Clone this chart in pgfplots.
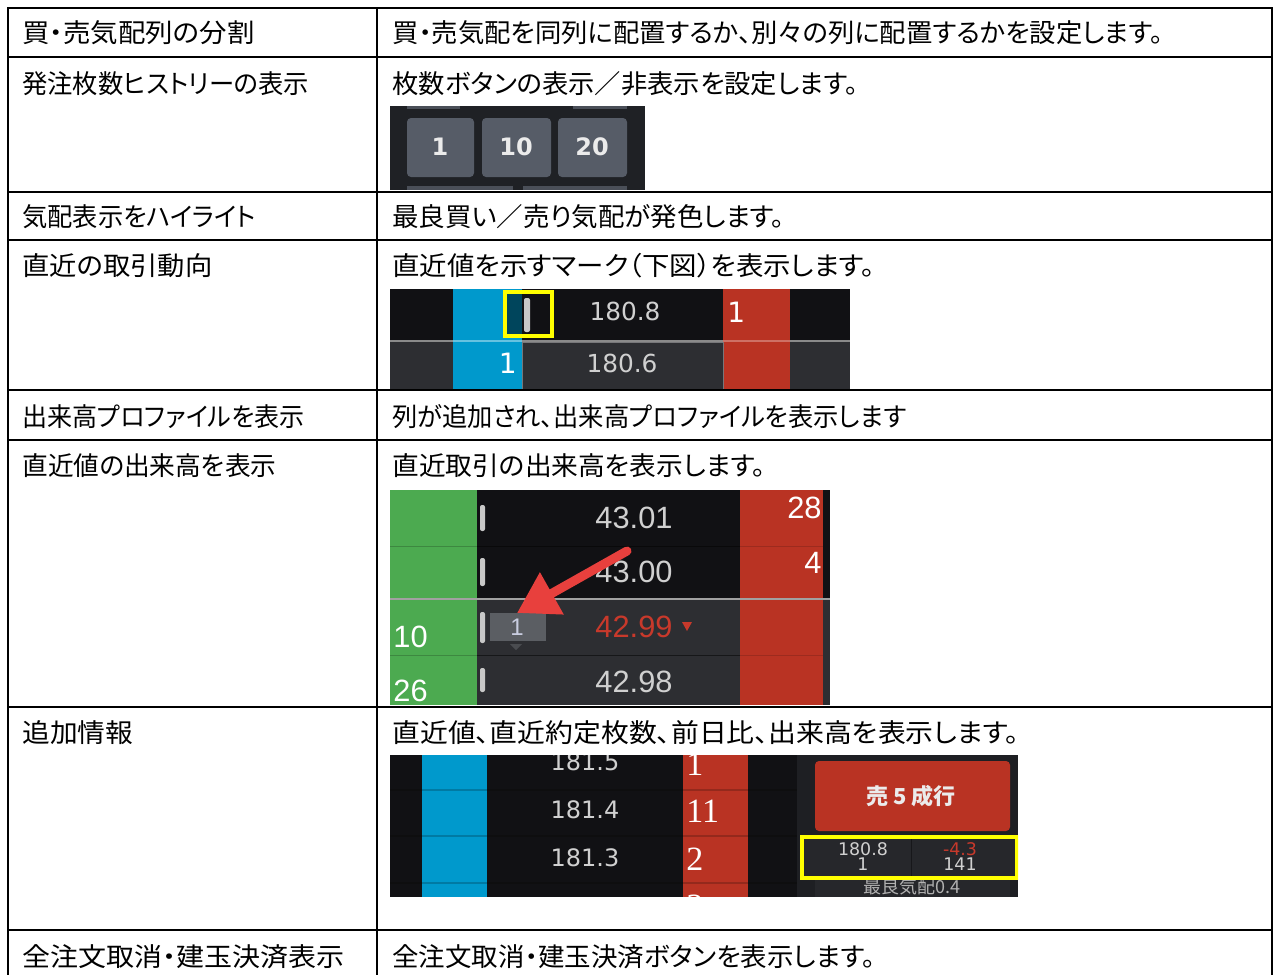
\documentclass[border=0pt]{standalone}
\usepackage{fontspec}
\usepackage{graphicx}
\usepackage{pgfplots}
\pgfplotsset{compat=1.18}
\usetikzlibrary{arrows.meta}
\setmainfont{Noto Sans CJK JP}[RawFeature=+palt]
\newfontfamily\cjk{Noto Sans CJK JP}
\newfontfamily\dv{DejaVu Sans}
\newfontfamily\ls{Liberation Sans}
\newfontfamily\lsr{Liberation Serif}
\definecolor{ssbg}{HTML}{1F2125}
\definecolor{btn}{HTML}{565C67}
\definecolor{btnpart}{HTML}{4A4F58}
\definecolor{blk}{HTML}{111114}
\definecolor{dgray}{HTML}{2D2E32}
\definecolor{sblue}{HTML}{0099CC}
\definecolor{sred}{HTML}{B93323}
\definecolor{divg}{HTML}{8A8A8A}
\definecolor{yel}{HTML}{FFFF00}
\definecolor{markc}{HTML}{C8C8C8}
\definecolor{numtxt}{HTML}{D0D0D0}
\definecolor{sgreen}{HTML}{4CAA50}
\definecolor{redtxt}{HTML}{C8392B}
\definecolor{arrowred}{HTML}{E8403D}
\definecolor{panel}{HTML}{1E1F23}
\definecolor{cellbg}{HTML}{26272B}
\definecolor{boxg}{HTML}{5B5E63}
\definecolor{trig}{HTML}{4A4C50}
\definecolor{onetxt}{HTML}{C9CDE0}
\newcommand{\rect}[5]{\fill[#5] (axis cs:#1,#2) rectangle (axis cs:#3,#4);}
\newcommand{\hl}[1]{%
  \draw[black!70!dgray,line width=0.6pt] (axis cs:390,#1) -- (axis cs:797,#1);
  \draw[sblue!80!black,line width=0.6pt] (axis cs:422,#1) -- (axis cs:487,#1);
  \draw[sred!80!black,line width=0.6pt] (axis cs:683,#1) -- (axis cs:748,#1);}
\newcommand{\tf}{\fontsize{13}{15}\selectfont}
\newcommand{\tx}[4]{\node[anchor=west,inner sep=0pt,font=\tf] at (axis cs:#1,#2) {\scalebox{#3}[1]{#4}};}
\begin{document}
\begin{tikzpicture}
\begin{axis}[width=639pt,height=487pt,scale only axis,
  xmin=0,xmax=1278,ymin=0,ymax=974,y dir=reverse,hide axis,clip=true]
\addplot[fill=white,draw=none] coordinates {(0,0) (1278,0) (1278,974) (0,974)} -- cycle;
% ---------- screenshot 1 ----------
\rect{390}{106}{645}{190}{ssbg}
\rect{407}{106}{460}{109}{btnpart}
\rect{573}{106}{627}{109}{btnpart}
\fill[btn,rounded corners=2pt] (axis cs:407,118) rectangle (axis cs:474,177);
\fill[btn,rounded corners=2pt] (axis cs:482,118) rectangle (axis cs:551,177);
\fill[btn,rounded corners=2pt] (axis cs:558,118) rectangle (axis cs:627,177);
\rect{407}{186}{513}{190}{btnpart}
\rect{523}{186}{627}{190}{btnpart}
\node[text=white!92!black,font=\dv\bfseries\fontsize{12}{14}\selectfont] at (axis cs:440,147) {1};
\node[text=white!92!black,font=\dv\bfseries\fontsize{12}{14}\selectfont] at (axis cs:516,147) {10};
\node[text=white!92!black,font=\dv\bfseries\fontsize{12}{14}\selectfont] at (axis cs:592,147) {20};
% ---------- screenshot 2 ----------
\rect{390}{289}{850}{341}{blk}
\rect{390}{341}{850}{390}{dgray}
\rect{453}{289}{522}{390}{sblue}
\rect{723}{289}{790}{390}{sred}
\draw[white!35!dgray,line width=0.5pt] (axis cs:522,342) rectangle (axis cs:723,390);
\draw[divg,line width=1pt] (axis cs:390,341) -- (axis cs:453,341);
\draw[sblue!60!white,line width=1pt] (axis cs:453,341) -- (axis cs:522,341);
\draw[divg,line width=1pt] (axis cs:522,341) -- (axis cs:723,341);
\draw[sred!70!white,line width=1pt] (axis cs:723,341) -- (axis cs:790,341);
\draw[divg,line width=1pt] (axis cs:790,341) -- (axis cs:850,341);
\rect{506}{293}{522}{335}{sblue!45!black}
\fill[markc,rounded corners=1pt] (axis cs:524,298) rectangle (axis cs:530,332);
\draw[yel,line width=2pt] (axis cs:505,292) rectangle (axis cs:552,336);
\node[text=numtxt,font=\dv\fontsize{12.4}{14}\selectfont] at (axis cs:625,311) {180.8};
\node[text=white,anchor=west,inner sep=0pt,font=\dv\fontsize{14}{15}\selectfont] at (axis cs:727,312) {1};
\node[text=white,anchor=east,inner sep=0pt,font=\dv\fontsize{14}{15}\selectfont] at (axis cs:517,363) {1};
\node[text=numtxt,font=\dv\fontsize{12.4}{14}\selectfont] at (axis cs:622,363) {180.6};
% ---------- screenshot 3 ----------
\rect{390}{490}{830}{599}{blk}
\rect{390}{599}{830}{705}{dgray}
\rect{390}{490}{477}{705}{sgreen}
\rect{740}{490}{823}{705}{sred}
\draw[black!80!dgray,line width=0.5pt] (axis cs:477,546) -- (axis cs:740,546);
\draw[sgreen!80!black,line width=0.5pt] (axis cs:390,546) -- (axis cs:477,546);
\draw[sred!85!black,line width=0.5pt] (axis cs:740,546) -- (axis cs:823,546);
\draw[black!50!dgray,line width=0.5pt] (axis cs:477,655) -- (axis cs:740,655);
\draw[sgreen!80!black,line width=0.5pt] (axis cs:390,655) -- (axis cs:477,655);
\draw[sred!85!black,line width=0.5pt] (axis cs:740,655) -- (axis cs:823,655);
\draw[divg!80!white,line width=1pt] (axis cs:390,599) -- (axis cs:830,599);
\fill[markc,rounded corners=1pt] (axis cs:480,505) rectangle (axis cs:485,531);
\fill[markc,rounded corners=1pt] (axis cs:480,558) rectangle (axis cs:485,586);
\fill[markc,rounded corners=1pt] (axis cs:480,612) rectangle (axis cs:485,643);
\fill[markc,rounded corners=1pt] (axis cs:480,668) rectangle (axis cs:485,692);
\node[text=numtxt,font=\ls\fontsize{15.4}{17}\selectfont] at (axis cs:634,518) {43.01};
\node[text=numtxt,font=\ls\fontsize{15.4}{17}\selectfont] at (axis cs:634,572) {43.00};
\node[text=redtxt,font=\ls\fontsize{15.4}{17}\selectfont] at (axis cs:634,627) {42.99};
\fill[redtxt] (axis cs:682,622) -- (axis cs:692,622) -- (axis cs:687,631) -- cycle;
\node[text=numtxt,font=\ls\fontsize{15.4}{17}\selectfont] at (axis cs:634,682) {42.98};
\node[text=white,anchor=east,inner sep=0pt,font=\ls\fontsize{15.4}{17}\selectfont] at (axis cs:822,508) {28};
\node[text=white,anchor=east,inner sep=0pt,font=\ls\fontsize{15.4}{17}\selectfont] at (axis cs:822,563) {4};
\node[text=white,anchor=west,inner sep=0pt,font=\ls\fontsize{15.4}{17}\selectfont] at (axis cs:393,637) {10};
\node[text=white,anchor=west,inner sep=0pt,font=\ls\fontsize{15.4}{17}\selectfont] at (axis cs:393,691) {26};
\rect{490}{613}{546}{641}{boxg}
\fill[trig] (axis cs:510,644) -- (axis cs:522,644) -- (axis cs:516,650) -- cycle;
\node[text=onetxt,font=\ls\fontsize{12}{14}\selectfont] at (axis cs:517,627) {1};
\draw[arrowred,line width=4.5pt,line cap=round,-{Triangle[length=20pt,width=23pt]}] (axis cs:627,551) -- (axis cs:517,613);
% ---------- screenshot 4 ----------
\begin{scope}
\clip (axis cs:390,755) rectangle (axis cs:1018,897);
\rect{390}{755}{797}{897}{blk}
\rect{797}{755}{1018}{897}{panel}
\rect{422}{755}{487}{897}{sblue}
\rect{683}{755}{748}{897}{sred}
\hl{790}
\hl{836}
\hl{883}
\node[text=numtxt,font=\dv\fontsize{12}{14}\selectfont] at (axis cs:585,762) {181.5};
\node[text=numtxt,font=\dv\fontsize{12}{14}\selectfont] at (axis cs:585,810) {181.4};
\node[text=numtxt,font=\dv\fontsize{12}{14}\selectfont] at (axis cs:585,858) {181.3};
\node[text=white,anchor=west,inner sep=0pt,font=\lsr\fontsize{17}{19}\selectfont] at (axis cs:686,764) {1};
\node[text=white,anchor=west,inner sep=0pt,font=\lsr\fontsize{17}{19}\selectfont] at (axis cs:686,811) {11};
\node[text=white,anchor=west,inner sep=0pt,font=\lsr\fontsize{17}{19}\selectfont] at (axis cs:686,859) {2};
\node[text=white,anchor=west,inner sep=0pt,font=\lsr\fontsize{17}{19}\selectfont] at (axis cs:686,906) {3};
\fill[sred,rounded corners=2pt] (axis cs:815,761) rectangle (axis cs:1010,831);
\node[text=white!92!black,font=\cjk\bfseries\fontsize{11}{13}\selectfont] at (axis cs:911,796) {売 5 成行};
\rect{815}{880}{1010}{897}{cellbg}
\node[text=numtxt!85!black,font=\cjk\fontsize{9}{11}\selectfont] at (axis cs:912,887) {最良気配0.4};
\rect{804}{839}{1016}{877}{cellbg}
\draw[black!40!cellbg,line width=0.5pt] (axis cs:911,839) -- (axis cs:911,877);
\node[text=numtxt,inner sep=0pt,font=\dv\fontsize{8.7}{9}\selectfont] at (axis cs:863,849) {180.8};
\node[text=numtxt,inner sep=0pt,font=\dv\fontsize{8.7}{9}\selectfont] at (axis cs:863,864) {1};
\node[text=redtxt,inner sep=0pt,font=\dv\fontsize{8.7}{9}\selectfont] at (axis cs:960,849) {-4.3};
\node[text=numtxt,inner sep=0pt,font=\dv\fontsize{8.7}{9}\selectfont] at (axis cs:960,864) {141};
\draw[yel,line width=2pt] (axis cs:802,837) rectangle (axis cs:1017,878);
\end{scope}
% ---------- table lines ----------
\addplot[black,line width=1pt] coordinates {(8,8) (1272,8)};
\addplot[black,line width=1pt] coordinates {(8,57) (1272,57)};
\addplot[black,line width=1pt] coordinates {(8,192) (1272,192)};
\addplot[black,line width=1pt] coordinates {(8,240) (1272,240)};
\addplot[black,line width=1pt] coordinates {(8,390) (1272,390)};
\addplot[black,line width=1pt] coordinates {(8,440) (1272,440)};
\addplot[black,line width=1pt] coordinates {(8,707) (1272,707)};
\addplot[black,line width=1pt] coordinates {(8,930) (1272,930)};
\addplot[black,line width=1pt] coordinates {(8,7.5) (8,980)};
\addplot[black,line width=1pt] coordinates {(377,7.5) (377,980)};
\addplot[black,line width=1pt] coordinates {(1272,7.5) (1272,980)};
% ---------- table text ----------
\tx{22}{33}{1.055}{買・売気配列の分割}
\tx{392}{33}{1.013}{買・売気配を同列に配置するか、別々の列に配置するかを設定します。}
\tx{22}{84}{0.973}{発注枚数ヒストリーの表示}
\tx{392}{84}{1.013}{枚数ボタンの表示／非表示を設定します。}
\tx{22}{217}{0.971}{気配表示をハイライト}
\tx{392}{217}{1.018}{最良買い／売り気配が発色します。}
\tx{22}{266}{1.05}{直近の取引動向}
\tx{392}{266}{1.055}{直近値を示すマーク（下図）を表示します。}
\tx{22}{417}{0.962}{出来高プロファイルを表示}
\tx{392}{417}{0.972}{列が追加され、出来高プロファイルを表示します}
\tx{22}{466}{0.988}{直近値の出来高を表示}
\tx{392}{466}{1.028}{直近取引の出来高を表示します。}
\tx{22}{733}{1.067}{追加情報}
\tx{392}{733}{1.072}{直近値、直近約定枚数、前日比、出来高を表示します。}
\tx{22}{957}{1.077}{全注文取消・建玉決済表示}
\tx{392}{957}{1.019}{全注文取消・建玉決済ボタンを表示します。}
\end{axis}
\end{tikzpicture}
\end{document}
